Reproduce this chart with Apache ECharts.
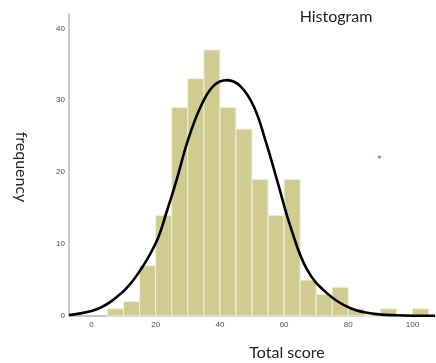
<!DOCTYPE html>
<html>
<head>
<meta charset="utf-8">
<script src="https://cdn.jsdelivr.net/npm/echarts@6/dist/echarts.min.js"></script>
<style>html,body{margin:0;padding:0;background:#fff}#c{width:436px;height:363px}</style>
</head>
<body>
<div id="c"></div>
<script>
// Histogram bins (lower edge of each 5-point bin) and their counts
var binStarts = [5, 10, 15, 20, 25, 30, 35, 40, 45, 50, 55, 60, 65, 70, 75, 80, 85, 90, 95, 100];
var binWidth = 5;
var counts    = [1, 2, 7, 14, 29, 33, 37, 29, 26, 19, 14, 19, 5, 3, 4, 1, 0, 1, 0, 1];
// Fitted normal curve
var curveX = [-7, -3, 0, 3, 6, 11, 16, 20.5, 23.5, 26.5, 30, 34, 38, 42.3, 46.5, 50.6, 54.2, 57.8, 62, 67.2, 73.4, 80.7, 88, 95, 107];
var curveY = [0.15, 0.4, 0.7, 1.2, 2.0, 3.9, 6.9, 10.6, 14.6, 18.9, 24.4, 29.1, 32.0, 32.8, 31.9, 29.1, 24.4, 18.9, 12.4, 6.4, 3.15, 1.07, 0.3, 0.1, 0.02];
// Stray red mark in the picture
var dotX = [89.7];
var dotY = [22.1];
// Tick labels
var xTicks = [0, 20, 40, 60, 80, 100];
var yTicks = [0, 10, 20, 30, 40];

var barData = binStarts.map(function (s, i) { return [s, s + binWidth, counts[i]]; });
var curveData = curveX.map(function (x, i) { return [x, curveY[i]]; });
var dotData = dotX.map(function (x, i) { return [x, dotY[i]]; });

var chart = echarts.init(document.getElementById('c'), null, { renderer: 'canvas' });
chart.setOption({
  animation: false,
  backgroundColor: '#ffffff',
  grid: { left: 69, right: 1, top: 14, bottom: 47, containLabel: false },
  xAxis: {
    type: 'value', min: -7, max: 107,
    splitLine: { show: false },
    axisLine: { show: true, lineStyle: { color: '#b4b4b4', width: 1.5 } },
    axisTick: { show: false },
    axisLabel: { customValues: xTicks, color: '#4a4a4a', fontSize: 8, fontFamily: 'Liberation Sans, Arial', margin: 5 }
  },
  yAxis: {
    type: 'value', min: 0, max: 42,
    splitLine: { show: false },
    axisLine: { show: true, onZero: false, lineStyle: { color: '#b4b4b4', width: 1.5 } },
    axisTick: { show: false },
    axisLabel: { customValues: yTicks, color: '#4a4a4a', fontSize: 8, fontFamily: 'Liberation Sans, Arial', margin: 4 }
  },
  series: [
    {
      type: 'custom',
      data: barData,
      encode: { x: [0, 1], y: 2 },
      renderItem: function (params, api) {
        var p0 = api.coord([api.value(0), api.value(2)]);
        var p1 = api.coord([api.value(1), 0]);
        return {
          type: 'rect',
          shape: { x: p0[0], y: p0[1], width: p1[0] - p0[0], height: p1[1] - p0[1] },
          style: { fill: '#d0cb91', stroke: '#f1efdc', lineWidth: 1 }
        };
      },
      z: 2
    },
    {
      type: 'line',
      data: curveData,
      smooth: 0.4,
      showSymbol: false,
      lineStyle: { color: '#000', width: 2.6 },
      z: 3
    },
    {
      type: 'scatter',
      data: dotData,
      symbolSize: 3,
      itemStyle: { color: '#ee2a2a' },
      z: 4
    }
  ],
  graphic: [
    { type: 'text', x: 336, y: 17, style: { text: 'Histogram', font: '16px Lato', fill: '#222', align: 'center', verticalAlign: 'middle' } },
    { type: 'text', x: 287, y: 353, style: { text: 'Total score', font: '16px Lato', fill: '#222', align: 'center', verticalAlign: 'middle' } },
    { type: 'text', x: 21, y: 167, rotation: -Math.PI / 2, style: { text: 'frequency', font: '16px Lato', fill: '#222', align: 'center', verticalAlign: 'middle' } }
  ]
});
</script>
</body>
</html>
